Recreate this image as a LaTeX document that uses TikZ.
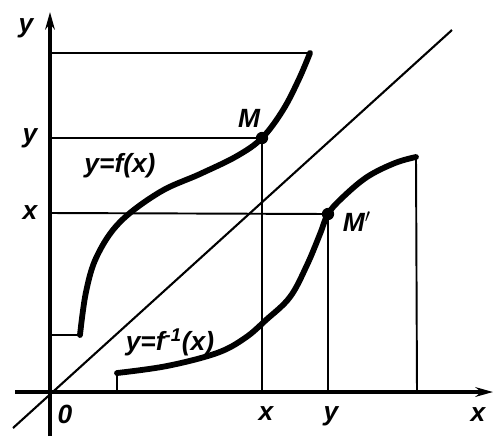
\documentclass[tikz,border=0pt]{standalone}
\usepackage{fontspec}
\setmainfont{Liberation Sans}
\usetikzlibrary{arrows.meta}
\begin{document}
\begin{tikzpicture}[x=0.02cm,y=-0.02cm,
  axis/.style={line width=1.8pt,-{Stealth[length=10pt,width=5.5pt]}},
  thin/.style={line width=1.1pt},
  curve/.style={line width=3.3pt,line cap=round,line join=round},
  lbl/.style={font=\fontsize{15}{16}\selectfont\bfseries\itshape,inner sep=0pt},
  dot/.style={circle,fill,inner sep=0pt,minimum size=7pt}]
\useasboundingbox (0,0) rectangle (494,437);
% coordinates
\coordinate (O) at (50,392);
\coordinate (ybot) at (50,436);
\coordinate (ytop) at (50,12);
\coordinate (xleft) at (15,392);
\coordinate (xright) at (493,392);
\coordinate (dA) at (13,428);
\coordinate (dB) at (452,30);
\coordinate (topL) at (50,53);
\coordinate (fEnd) at (310,53);
\coordinate (fStart) at (80,335);
\coordinate (fStartL) at (50,335);
\coordinate (yL) at (50,138);
\coordinate (xL) at (50,213);
\coordinate (xB) at (262,392);
\coordinate (yB) at (328,392);
\coordinate (gStart) at (117,373);
\coordinate (gStartB) at (117,392);
\coordinate (gEnd) at (416,157);
\coordinate (gEndB) at (417,392);
\node[dot] (M) at (262,138) {};
\node[dot] (Mp) at (328,214) {};
% axes
\draw[axis] (ybot) -- (ytop);
\draw[axis] (xleft) -- (xright);
% diagonal
\draw[line width=1.2pt] (dA) -- (dB);
% thin lines
\draw[thin] (topL) -- (fEnd);
\draw[thin] (yL) -- (M.center);
\draw[thin] (xL) -- (Mp.center);
\draw[thin] (M.center) -- (xB);
\draw[thin] (Mp.center) -- (yB);
\draw[thin] (fStartL) -- (fStart);
\draw[thin] (gStartB) -- (gStart);
\draw[thin] (gEnd) -- (gEndB);
% curve f
\draw[curve] plot[smooth,tension=0.6] coordinates {(80,335) (86,292) (97,256) (120,222) (160,192) (200,174) (237,156) (262,138) (283,110) (299,79) (310,53)};
% curve f^-1
\draw[curve] plot[smooth,tension=0.6] coordinates {(117,373) (167,366) (217,353) (245,338) (266,320) (290,297) (307,265) (320,234) (328,214) (342,198) (367,177) (395,163) (416,157)};
% labels
\node[lbl] (ly) at (26,28) {y};
\node[lbl] (lx) at (478,415) {x};
\node[lbl] (l0) at (65,414) {0};
\node[lbl] (lyy) at (30,138) {y};
\node[lbl] (lxx) at (30,213) {x};
\node[lbl] (lxb) at (266,414) {x};
\node[lbl] (lyb) at (331,416) {y};
\node[lbl] (lM) at (249,118) {M};
\node[lbl] (lMp) at (357,222) {M$'$};
\node[lbl] (lf) at (120,166) {y=f(x)};
\node[lbl] (lg) at (170,342) {y=f\textsuperscript{-1}(x)};
\end{tikzpicture}
\end{document}
